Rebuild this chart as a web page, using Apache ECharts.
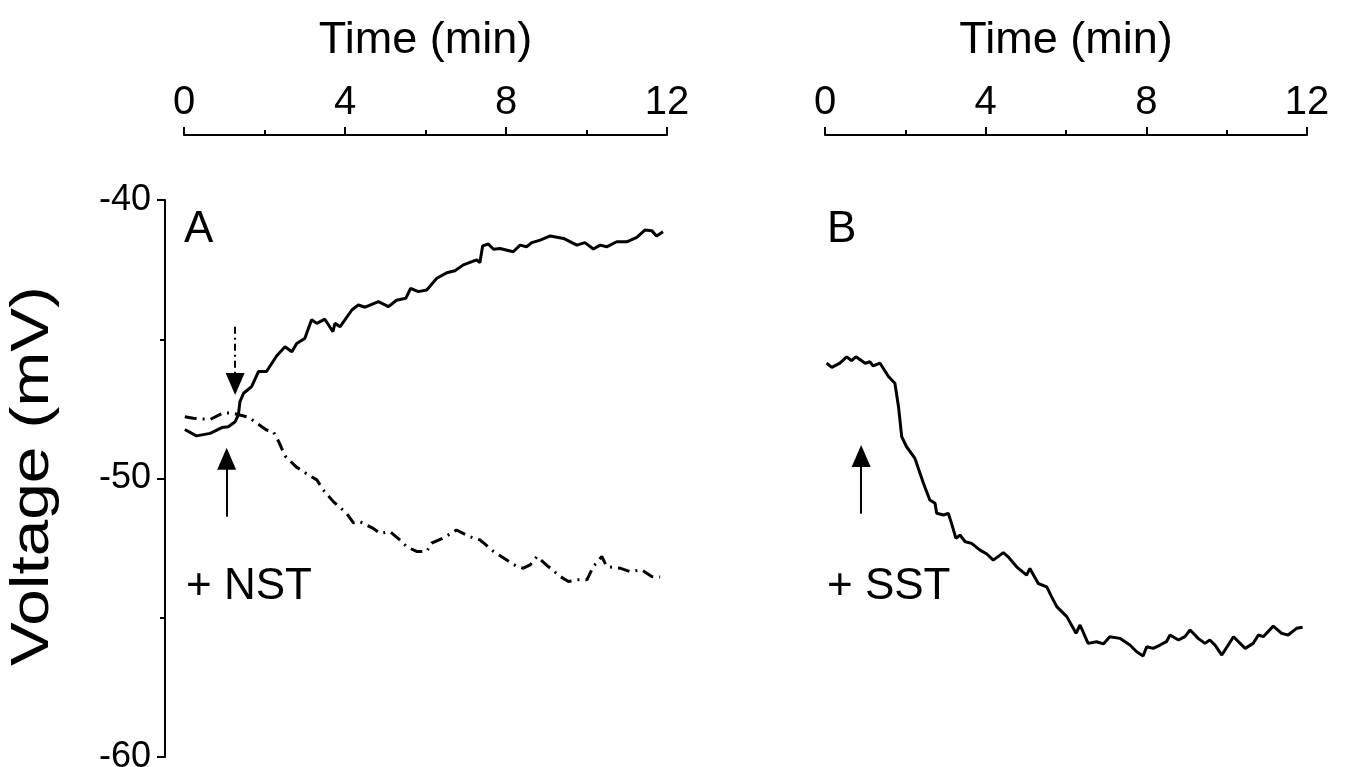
<!DOCTYPE html>
<html>
<head>
<meta charset="utf-8">
<script src="https://cdn.jsdelivr.net/npm/echarts@6/dist/echarts.min.js"></script>
<style>
  html, body { margin: 0; padding: 0; background: #fff; }
  #chart { width: 1345px; height: 767px; }
</style>
</head>
<body>
<div id="chart"></div>
<script>
// panel A, solid trace (time in min, voltage in mV)
const timeA = [0.02, 0.31, 0.65, 0.94, 1.1, 1.27, 1.35, 1.39, 1.48, 1.68, 1.85, 2.05, 2.3, 2.51, 2.68, 2.8, 3.0, 3.17, 3.3, 3.5,
  3.7, 3.75, 3.88, 4.17, 4.33, 4.5, 4.83, 5.08, 5.28, 5.51, 5.63, 5.82, 6.03, 6.28, 6.53, 6.73, 6.94, 7.27, 7.35, 7.42,
  7.56, 7.69, 7.85, 8.18, 8.35, 8.51, 8.64, 8.85, 9.1, 9.43, 9.76, 9.96, 10.17, 10.34, 10.5, 10.75, 11.0, 11.25, 11.45, 11.62,
  11.74, 11.9];
const voltA = [-48.24, -48.47, -48.38, -48.17, -48.14, -47.96, -47.72, -47.24, -46.94, -46.7, -46.16, -46.16, -45.6, -45.27, -45.45, -45.15, -44.97, -44.3, -44.43, -44.28,
  -44.73, -44.43, -44.55, -43.95, -43.77, -43.85, -43.65, -43.83, -43.6, -43.53, -43.17, -43.29, -43.23, -42.81, -42.61, -42.54, -42.33, -42.15, -42.25, -41.65,
  -41.58, -41.77, -41.74, -41.86, -41.62, -41.68, -41.53, -41.44, -41.29, -41.38, -41.62, -41.53, -41.76, -41.62, -41.68, -41.5, -41.5, -41.34, -41.08, -41.1,
  -41.29, -41.14];

// panel A, dash-dot trace
const timeA2 = [0.02, 0.23, 0.65, 0.98, 1.23, 1.6, 1.76, 2.05, 2.22, 2.35, 2.51, 2.8, 3.09, 3.3, 3.46, 3.71, 4.04, 4.21, 4.37, 4.7,
  4.87, 5.12, 5.37, 5.53, 5.78, 6.03, 6.15, 6.44, 6.77, 7.1, 7.36, 7.69, 8.02, 8.27, 8.43, 8.6, 8.77, 9.05, 9.35, 9.55,
  9.76, 10.01, 10.17, 10.38, 10.5, 10.83, 11.08, 11.37, 11.62, 11.83];
const voltA2 = [-47.78, -47.84, -47.88, -47.64, -47.66, -47.8, -47.96, -48.26, -48.32, -48.67, -49.19, -49.6, -49.87, -50.05, -50.41, -50.83, -51.25, -51.59, -51.55, -51.79,
  -51.97, -51.91, -52.21, -52.45, -52.62, -52.62, -52.32, -52.14, -51.85, -52.09, -52.21, -52.62, -52.93, -53.16, -53.22, -53.1, -52.8, -53.16, -53.52, -53.7,
  -53.64, -53.64, -53.16, -52.8, -53.16, -53.22, -53.34, -53.28, -53.52, -53.54];

// panel B trace
const timeB = [0.04, 0.17, 0.37, 0.54, 0.66, 0.77, 1.0, 1.12, 1.2, 1.37, 1.45, 1.58, 1.74, 1.83, 1.91, 2.03, 2.24, 2.45, 2.61, 2.74,
  2.78, 2.95, 3.07, 3.15, 3.26, 3.36, 3.49, 3.65, 3.86, 4.03, 4.19, 4.44, 4.56, 4.77, 5.02, 5.1, 5.31, 5.52, 5.64, 5.77,
  6.02, 6.25, 6.35, 6.55, 6.76, 6.93, 7.09, 7.34, 7.47, 7.59, 7.76, 7.92, 8.01, 8.17, 8.34, 8.5, 8.59, 8.8, 8.96, 9.09,
  9.29, 9.46, 9.58, 9.71, 9.88, 10.17, 10.46, 10.66, 10.79, 10.91, 11.16, 11.37, 11.53, 11.74, 11.89];
const voltB = [-45.86, -46.01, -45.86, -45.63, -45.77, -45.63, -45.86, -45.81, -45.96, -45.86, -46.04, -46.34, -46.58, -47.42, -48.5, -48.86, -49.28, -50.17, -50.77, -50.89,
  -51.25, -51.31, -51.25, -51.61, -52.15, -52.03, -52.27, -52.33, -52.57, -52.71, -52.93, -52.66, -52.81, -53.17, -53.47, -53.23, -53.77, -53.89, -54.24, -54.6,
  -54.96, -55.56, -55.26, -55.92, -55.86, -55.94, -55.68, -55.74, -55.86, -55.98, -56.22, -56.37, -56.04, -56.1, -55.98, -55.86, -55.62, -55.8, -55.68, -55.44,
  -55.74, -55.92, -55.8, -55.98, -56.34, -55.68, -56.1, -55.92, -55.62, -55.68, -55.3, -55.56, -55.62, -55.38, -55.34];

// arrows: [time, tail mV, tip mV]
const arrowDashA = [1.27, -44.55, -47.0];
const arrowSolidA = [1.06, -51.37, -48.9];
const arrowB = [0.9, -51.27, -48.8];

const xTicks = [0, 4, 8, 12];
const yTicks = [-60, -50, -40];

const font = "'Liberation Sans', Arial, sans-serif";
const gridH = 557;
const mvPerPx = (yTicks[2] - yTicks[0]) / gridH;
const headLen = 22;

function zip(a, b) {
  return a.map((v, i) => [v, b[i]]);
}

// line from tail to tip, the triangle centre sits half a head back from the tip
function arrow(a, dashed) {
  const dir = a[2] > a[1] ? 1 : -1;
  const end = a[2] - dir * (headLen / 2) * mvPerPx;
  return {
    silent: true,
    animation: false,
    symbol: ['none', 'triangle'],
    symbolSize: [19, headLen],
    label: { show: false },
    lineStyle: { color: '#000', width: 2, type: dashed ? [7, 4, 2, 4] : 'solid' },
    data: [[{ coord: [a[0], a[1]] }, { coord: [a[0], end] }]]
  };
}

function xAxisFor(idx) {
  return {
    gridIndex: idx,
    type: 'value',
    position: 'top',
    offset: 65,
    min: xTicks[0],
    max: xTicks[xTicks.length - 1],
    interval: 4,
    name: 'Time (min)',
    nameLocation: 'middle',
    nameGap: 72,
    nameTextStyle: { fontFamily: font, fontSize: 45, color: '#000' },
    axisLine: { show: true, onZero: false, lineStyle: { color: '#000', width: 2 } },
    axisTick: { show: true, length: 8, lineStyle: { color: '#000', width: 2 } },
    minorTick: { show: true, splitNumber: 2, length: 5, lineStyle: { color: '#000', width: 2 } },
    axisLabel: { fontFamily: font, fontSize: 40, color: '#000', margin: 12 },
    splitLine: { show: false }
  };
}

const myChart = echarts.init(document.getElementById('chart'));
const option = {
  backgroundColor: '#fff',
  animation: false,
  grid: [
    { left: 184, top: 200, width: 483, height: gridH, outerBoundsMode: 'none', containLabel: false },
    { left: 825, top: 200, width: 482, height: gridH, outerBoundsMode: 'none', containLabel: false }
  ],
  xAxis: [xAxisFor(0), xAxisFor(1)],
  yAxis: [
    {
      gridIndex: 0,
      type: 'value',
      offset: 19,
      min: yTicks[0],
      max: yTicks[2],
      interval: 10,
      axisLine: { show: true, onZero: false, lineStyle: { color: '#000', width: 2 } },
      axisTick: { show: true, length: 8, lineStyle: { color: '#000', width: 2 } },
      minorTick: { show: true, splitNumber: 2, length: 5, lineStyle: { color: '#000', width: 2 } },
      axisLabel: { fontFamily: font, fontSize: 36, color: '#000', margin: 14 },
      splitLine: { show: false }
    },
    {
      gridIndex: 1,
      type: 'value',
      min: yTicks[0],
      max: yTicks[2],
      show: false
    }
  ],
  series: [
    {
      type: 'line',
      xAxisIndex: 0,
      yAxisIndex: 0,
      data: zip(timeA2, voltA2),
      showSymbol: false,
      lineStyle: { color: '#000', width: 3, type: [12, 6, 2, 6] },
      markLine: arrow(arrowDashA, true)
    },
    {
      type: 'line',
      xAxisIndex: 0,
      yAxisIndex: 0,
      data: zip(timeA, voltA),
      showSymbol: false,
      lineStyle: { color: '#000', width: 3 },
      markLine: arrow(arrowSolidA, false)
    },
    {
      type: 'line',
      xAxisIndex: 1,
      yAxisIndex: 1,
      data: zip(timeB, voltB),
      showSymbol: false,
      lineStyle: { color: '#000', width: 3 },
      markLine: arrow(arrowB, false)
    }
  ],
  graphic: [
    // y axis title, stretched along its length like the original
    {
      type: 'text', x: 33, y: 476, rotation: Math.PI / 2, scaleX: 1.24,
      style: { text: 'Voltage (mV)', font: '53px ' + font, fill: '#000', align: 'center', verticalAlign: 'middle' }
    },
    { type: 'text', left: 184, top: 208, style: { text: 'A', font: '44px ' + font, fill: '#000' } },
    { type: 'text', left: 186, top: 565, style: { text: '+ NST', font: '44px ' + font, fill: '#000' } },
    { type: 'text', left: 827, top: 208, style: { text: 'B', font: '44px ' + font, fill: '#000' } },
    { type: 'text', left: 827, top: 565, style: { text: '+ SST', font: '44px ' + font, fill: '#000' } }
  ]
};
myChart.setOption(option);
</script>
</body>
</html>
